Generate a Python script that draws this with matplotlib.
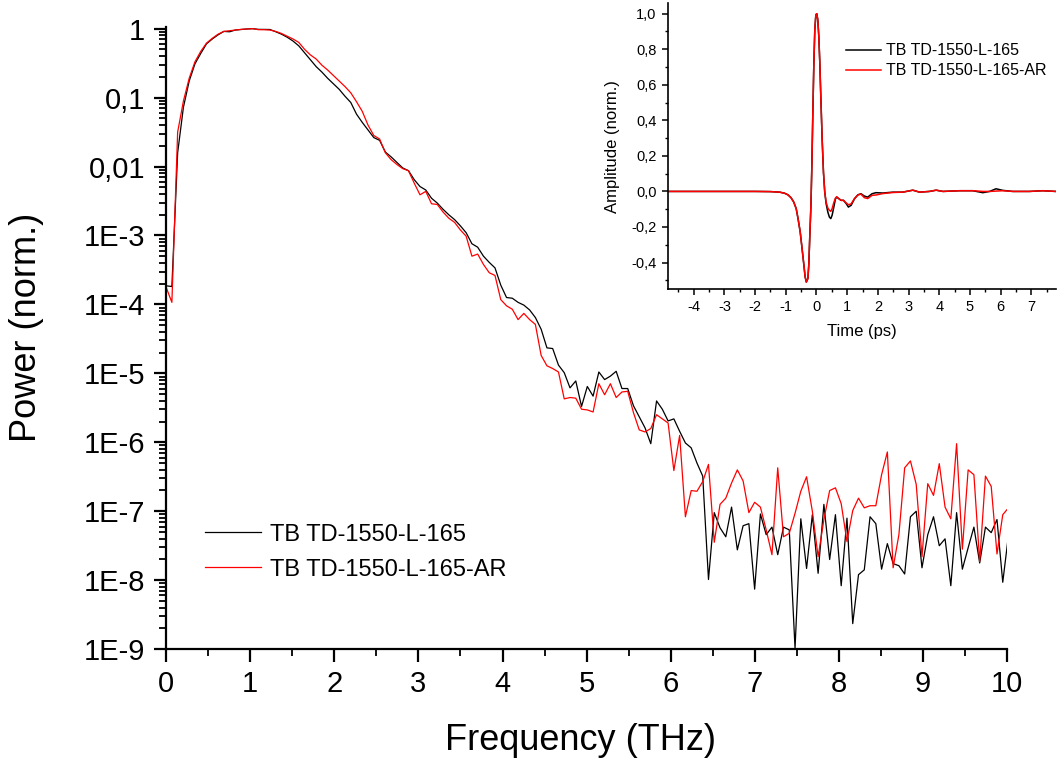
import matplotlib

matplotlib.use("Agg")
import matplotlib.pyplot as plt
import numpy as np
from matplotlib.ticker import FixedLocator, FixedFormatter, MultipleLocator, FuncFormatter, LogLocator

plt.rcParams["font.family"] = ["Liberation Sans", "DejaVu Sans"]
plt.rcParams["axes.unicode_minus"] = False

# ---- spectrum, sampled every 0.0686 THz; values are log10(power) -------------
DF = 0.0686
black_log = [
    -3.73, -3.74, -1.80, -1.14, -0.76, -0.51, -0.36, -0.22, -0.15, -0.09,
    -0.04, -0.045, -0.02, -0.012, -0.005, 0.0, -0.01, -0.011, -0.012, -0.045,
    -0.08, -0.125, -0.18, -0.25, -0.35, -0.45, -0.55, -0.63, -0.72, -0.80,
    -0.88, -0.98, -1.07, -1.24, -1.36, -1.47, -1.58, -1.62, -1.79, -1.86,
    -1.94, -2.02, -2.06, -2.19, -2.29, -2.34, -2.46, -2.53, -2.62, -2.70,
    -2.77, -2.86, -2.96, -3.12, -3.17, -3.30, -3.39, -3.47, -3.72, -3.90,
    -3.91, -3.97, -4.01, -4.08, -4.19, -4.36, -4.63, -4.64, -4.88, -4.99,
    -5.21, -5.11, -5.48, -5.19, -5.33, -4.98, -5.09, -5.04, -4.97, -5.22,
    -5.22, -5.47, -5.63, -5.79, -6.02, -5.40, -5.52, -5.69, -5.66, -5.84,
    -6.01, -6.08, -6.30, -6.49, -7.99, -7.02, -7.24, -7.37, -6.94, -7.56,
    -7.21, -7.18, -8.13, -7.04, -7.34, -7.23, -7.63, -7.23, -7.27, -8.99,
    -7.11, -7.83, -7.05, -7.90, -6.90, -7.70, -7.05, -8.08, -7.10, -8.63,
    -7.92, -7.85, -7.08, -7.18, -7.84, -7.47, -7.76, -7.79, -7.91, -7.08,
    -7.00, -7.82, -7.34, -7.08, -7.50, -7.40, -8.08, -7.02, -7.84, -7.53,
    -7.23, -7.75, -7.23, -7.31, -7.12, -8.03, -7.34,
]
red_log = [
    -3.75, -3.97, -1.50, -1.05, -0.72, -0.48, -0.33, -0.21, -0.14, -0.08,
    -0.04, -0.03, -0.02, -0.01, -0.005, 0.0, -0.015, -0.015, -0.02, -0.04,
    -0.07, -0.11, -0.15, -0.20, -0.30, -0.38, -0.44, -0.53, -0.60, -0.68,
    -0.76, -0.84, -0.93, -1.06, -1.20, -1.40, -1.55, -1.60, -1.80, -1.90,
    -1.97, -2.03, -2.06, -2.24, -2.41, -2.36, -2.54, -2.55, -2.66, -2.75,
    -2.81, -2.92, -3.01, -3.30, -3.27, -3.42, -3.54, -3.58, -3.93, -4.02,
    -4.07, -4.22, -4.13, -4.22, -4.29, -4.74, -4.89, -4.93, -4.98, -5.37,
    -5.35, -5.36, -5.52, -5.53, -5.56, -5.15, -5.31, -5.15, -5.35, -5.27,
    -5.26, -5.57, -5.82, -5.85, -5.80, -5.60, -5.66, -5.72, -6.41, -5.90,
    -7.08, -6.70, -6.71, -6.57, -6.32, -7.45, -6.90, -6.81, -6.59, -6.40,
    -6.56, -7.02, -6.87, -6.94, -7.27, -7.63, -6.37, -7.37, -7.32, -7.03,
    -6.71, -6.50, -7.00, -7.66, -7.12, -6.70, -6.66, -6.89, -7.44, -6.99,
    -6.81, -6.95, -6.92, -6.92, -6.47, -6.14, -7.82, -7.34, -6.37, -6.27,
    -6.61, -7.66, -6.60, -6.77, -6.31, -6.94, -7.11, -6.02, -7.55, -6.40,
    -6.47, -7.73, -6.49, -6.64, -7.62, -7.05, -6.95,
]
freq = np.arange(len(black_log)) * DF

# ---- inset: time-domain pulses ------------------------------------------------
t_ps = [-4.85, -3.0, -2.0, -1.5, -1.2, -1.04, -0.93, -0.83, -0.74, -0.66,
        -0.60, -0.53, -0.47, -0.41, -0.37, -0.33, -0.28, -0.25, -0.22, -0.18,
        -0.15, -0.12, -0.087, -0.054, -0.02, 0.01, 0.043, 0.076, 0.109, 0.141,
        0.185, 0.228, 0.27, 0.315, 0.37, 0.42, 0.467, 0.51, 0.565, 0.62,
        0.66, 0.73, 0.80, 0.88, 0.97, 1.04, 1.13, 1.24, 1.35, 1.45,
        1.56, 1.67, 1.81, 1.94, 2.16, 2.49, 2.81, 3.14, 3.36, 3.68,
        3.90, 4.12, 4.66, 5.09, 5.42, 5.64, 5.85, 6.07, 6.40, 6.94,
        7.37, 7.80]
amp_black = [0.0, 0.0, 0.0, -0.001, -0.004, -0.01, -0.019, -0.035, -0.06, -0.097,
             -0.153, -0.228, -0.32, -0.414, -0.48, -0.51, -0.49, -0.414, -0.265, -0.078,
             0.146, 0.425, 0.705, 0.91, 0.994, 1.0, 0.966, 0.873, 0.724, 0.537,
             0.295, 0.108, -0.004, -0.069, -0.116, -0.144, -0.153, -0.134, -0.088, -0.041,
             -0.032, -0.041, -0.05, -0.05, -0.069, -0.088, -0.078, -0.041, -0.019, -0.013,
             -0.026, -0.032, -0.013, -0.007, -0.009, -0.004, -0.004, 0.007, -0.004, 0.0,
             0.007, 0.0, 0.004, 0.004, -0.007, 0.0, 0.015, 0.006, 0.0, 0.0,
             0.004, 0.0]
amp_red = [0.0, 0.0, 0.0, -0.001, -0.004, -0.01, -0.019, -0.035, -0.06, -0.097,
           -0.153, -0.228, -0.32, -0.414, -0.48, -0.51, -0.49, -0.414, -0.265, -0.078,
           0.146, 0.425, 0.705, 0.91, 0.994, 1.0, 0.966, 0.873, 0.724, 0.537,
           0.295, 0.108, -0.004, -0.06, -0.093, -0.106, -0.112, -0.097, -0.063, -0.037,
           -0.03, -0.041, -0.05, -0.05, -0.065, -0.075, -0.07, -0.04, -0.02, -0.015,
           -0.035, -0.04, -0.022, -0.02, -0.012, -0.006, -0.004, 0.007, -0.004, 0.0,
           0.007, 0.0, 0.004, 0.004, 0.0, 0.0, 0.002, 0.004, 0.0, 0.0,
           0.004, 0.0]

labels = ["TB TD-1550-L-165", "TB TD-1550-L-165-AR"]
y_tick_vals = [1e-9, 1e-8, 1e-7, 1e-6, 1e-5, 1e-4, 1e-3, 1e-2, 1e-1, 1]
y_tick_text = ["1E-9", "1E-8", "1E-7", "1E-6", "1E-5", "1E-4", "1E-3", "0,01", "0,1", "1"]

fig = plt.figure(figsize=(10.58, 7.61), dpi=100)

# ---- main spectrum -------------------------------------------------------------
ax = fig.add_axes([0.157, 0.147, 0.795, 0.818])
ax.plot(freq, 10.0 ** np.array(black_log), color="black", lw=0.9, label=labels[0])
ax.plot(freq, 10.0 ** np.array(red_log), color="red", lw=0.9, label=labels[1])
ax.set_yscale("log")
ax.set_xlim(0, 10)
ax.set_ylim(1e-9, 1.07)
ax.yaxis.set_major_locator(FixedLocator(y_tick_vals))
ax.yaxis.set_major_formatter(FixedFormatter(y_tick_text))
ax.yaxis.set_minor_locator(LogLocator(base=10, subs=np.arange(2, 10), numticks=20))
ax.xaxis.set_major_locator(MultipleLocator(1))
ax.xaxis.set_minor_locator(MultipleLocator(0.5))
for s in ("top", "right"):
    ax.spines[s].set_visible(False)
for s in ("left", "bottom"):
    ax.spines[s].set_linewidth(1.6)
ax.tick_params(which="major", direction="out", length=9, width=1.6, labelsize=21, pad=6)
ax.tick_params(which="minor", direction="out", length=5, width=1.3)
ax.set_xlabel("Frequency (THz)", fontsize=26)
ax.set_ylabel("Power (norm.)", fontsize=26)
ax.xaxis.set_label_coords(0.493, -0.118)
ax.yaxis.set_label_coords(-0.145, 0.517)
ax.legend(loc="center left", bbox_to_anchor=(0.046, 0.156), frameon=False, fontsize=17,
          handlelength=2.4, handletextpad=0.35, labelspacing=0.55, borderpad=0, borderaxespad=0)

# ---- inset: time domain ----------------------------------------------------------
ins = fig.add_axes([0.631, 0.620, 0.367, 0.376])
ins.plot(t_ps, amp_black, color="black", lw=1.1, label=labels[0])
ins.plot(t_ps, amp_red, color="red", lw=1.1, label=labels[1])
ins.set_xlim(-4.85, 7.8)
ins.set_ylim(-0.55, 1.06)
ins.xaxis.set_major_locator(MultipleLocator(1))
ins.xaxis.set_minor_locator(MultipleLocator(0.5))
ins.yaxis.set_major_locator(MultipleLocator(0.2))
ins.yaxis.set_minor_locator(MultipleLocator(0.1))
ins.xaxis.set_major_formatter(FuncFormatter(lambda v, p: f"{v:.0f}"))
ins.yaxis.set_major_formatter(FuncFormatter(lambda v, p: f"{v:.1f}".replace(".", ",").replace("-0,0", "0,0")))
for s in ("top", "right"):
    ins.spines[s].set_visible(False)
for s in ("left", "bottom"):
    ins.spines[s].set_linewidth(1.2)
ins.tick_params(which="major", direction="out", length=4, width=1.1, labelsize=10.5, pad=4)
ins.tick_params(which="minor", direction="out", length=2.5, width=1.0)
ins.set_xlabel("Time (ps)", fontsize=12, labelpad=7)
ins.set_ylabel("Amplitude (norm.)", fontsize=12, labelpad=8)
ins.legend(loc="center left", bbox_to_anchor=(0.46, 0.798), frameon=False, fontsize=11.5,
           handlelength=2.2, handletextpad=0.3, labelspacing=0.3, borderpad=0, borderaxespad=0)

fig.savefig("out.png", dpi=100)
